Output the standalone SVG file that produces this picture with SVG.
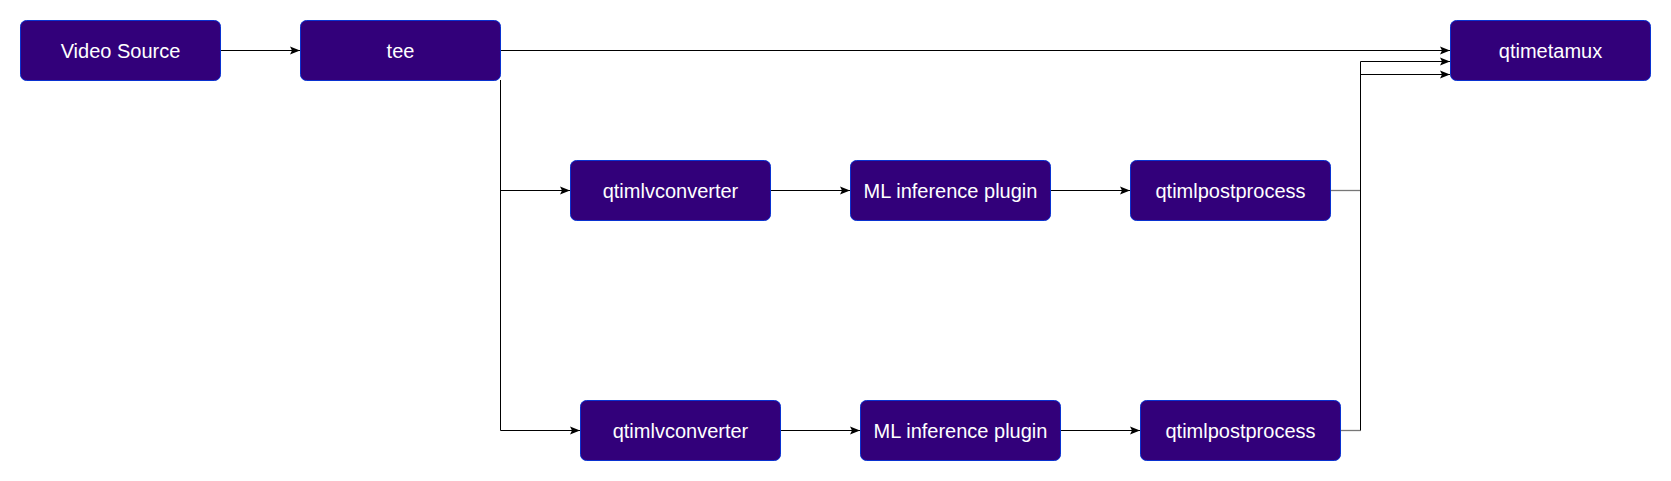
<svg xmlns="http://www.w3.org/2000/svg" width="1671" height="481" viewBox="0 0 1671 481">
<defs>
<style>
.n rect{fill:#32007A;stroke:#0A32D0;stroke-width:1}
.n text{fill:#FFFFFF;font-family:"Liberation Sans",Arial,sans-serif;font-size:20px;text-anchor:middle;dominant-baseline:central}
.c path{fill:none;stroke:#000000;stroke-width:1}
.c path.g{stroke:#777777;stroke-width:1.3}
</style>
<marker id="ah" viewBox="0 0 10 10" refX="10" refY="5" markerWidth="10" markerHeight="10" markerUnits="userSpaceOnUse" orient="auto">
<path d="M0,1 L10,5 L0,9 L2,5 Z" fill="#000"/>
</marker>
</defs>
<rect width="1671" height="481" fill="#FFFFFF"/>
<g class="c">
<path d="M220.5,50.5 L300,50.5" marker-end="url(#ah)"/>
<path d="M500.5,50.5 L1450,50.5" marker-end="url(#ah)"/>
<path d="M500.5,80 L500.5,190.5 L570,190.5" marker-end="url(#ah)"/>
<path d="M500.5,80 L500.5,430.5 L580,430.5" marker-end="url(#ah)"/>
<path d="M770.5,190.5 L850,190.5" marker-end="url(#ah)"/>
<path d="M1050.5,190.5 L1130,190.5" marker-end="url(#ah)"/>
<path d="M780.5,430.5 L860,430.5" marker-end="url(#ah)"/>
<path d="M1060.5,430.5 L1140,430.5" marker-end="url(#ah)"/>
<path class="g" d="M1331,190.5 L1360.5,190.5"/>
<path d="M1360.5,190.5 L1360.5,74.5 L1450,74.5" marker-end="url(#ah)"/>
<path d="M1330.5,430.5 L1340.5,430.5"/>
<path class="g" d="M1341,430.5 L1360.5,430.5"/>
<path d="M1360.5,430.5 L1360.5,61.5 L1450,61.5" marker-end="url(#ah)"/>
</g>
<g id="video-source" class="n"><rect x="20.5" y="20.5" width="200" height="60" rx="6"/><text x="120.5" y="50.5">Video Source</text></g>
<g id="tee" class="n"><rect x="300.5" y="20.5" width="200" height="60" rx="6"/><text x="400.5" y="50.5">tee</text></g>
<g id="qtimetamux" class="n"><rect x="1450.5" y="20.5" width="200" height="60" rx="6"/><text x="1550.5" y="50.5">qtimetamux</text></g>
<g id="qtimlvconverter-1" class="n"><rect x="570.5" y="160.5" width="200" height="60" rx="6"/><text x="670.5" y="190.5">qtimlvconverter</text></g>
<g id="ml-inference-1" class="n"><rect x="850.5" y="160.5" width="200" height="60" rx="6"/><text x="950.5" y="190.5">ML inference plugin</text></g>
<g id="qtimlpostprocess-1" class="n"><rect x="1130.5" y="160.5" width="200" height="60" rx="6"/><text x="1230.5" y="190.5">qtimlpostprocess</text></g>
<g id="qtimlvconverter-2" class="n"><rect x="580.5" y="400.5" width="200" height="60" rx="6"/><text x="680.5" y="430.5">qtimlvconverter</text></g>
<g id="ml-inference-2" class="n"><rect x="860.5" y="400.5" width="200" height="60" rx="6"/><text x="960.5" y="430.5">ML inference plugin</text></g>
<g id="qtimlpostprocess-2" class="n"><rect x="1140.5" y="400.5" width="200" height="60" rx="6"/><text x="1240.5" y="430.5">qtimlpostprocess</text></g>
</svg>
